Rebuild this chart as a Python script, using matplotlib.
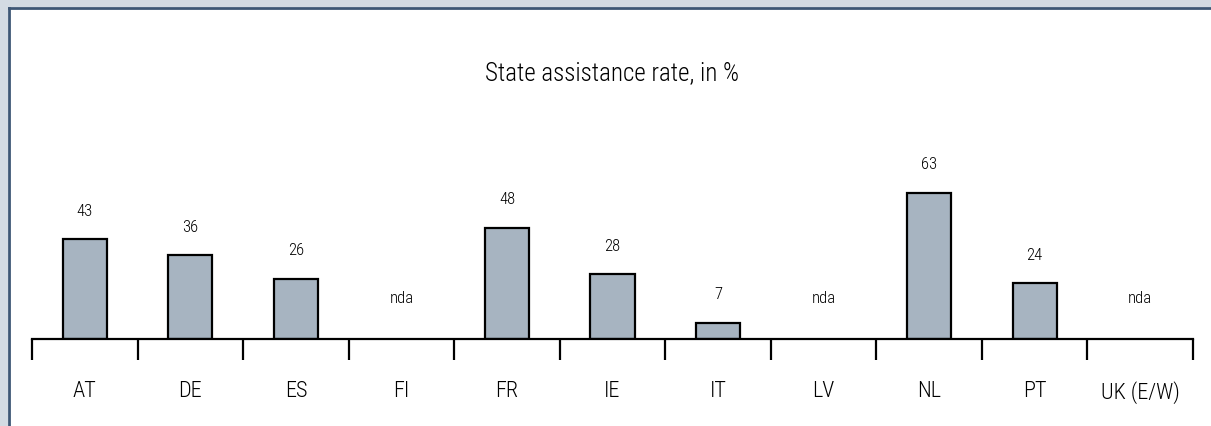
import matplotlib
matplotlib.use("Agg")
import numpy as np
from matplotlib import pyplot as plt
from matplotlib.patches import Rectangle

countries = ["AT", "DE", "ES", "FI", "FR", "IE", "IT", "LV", "NL", "PT", "UK (E/W)"]
rates = [43, 36, 26, None, 48, 28, 7, None, 63, 24, None]
title = "State assistance rate, in %"
missing_label = "nda"

plt.rcParams['font.family'] = ['Roboto Condensed', 'DejaVu Sans']
plt.rcParams['font.weight'] = 'light'

fig = plt.figure(figsize=(12.11, 4.26), dpi=100)
fig.patch.set_facecolor("#d3dbe3")

# white panel with dark left/top border
panel = Rectangle((8 / 1211, 0), 1, 1 - 7 / 426, transform=fig.transFigure,
                  facecolor="white", edgecolor="none", zorder=-2)
fig.patches.append(panel)
fig.add_artist(plt.Line2D([8.5 / 1211, 8.5 / 1211], [0, 1 - 7.5 / 426],
                          transform=fig.transFigure, color="#3d5775", lw=2, zorder=-1))
fig.add_artist(plt.Line2D([8.5 / 1211, 1], [1 - 7.5 / 426, 1 - 7.5 / 426],
                          transform=fig.transFigure, color="#3d5775", lw=2, zorder=-1))

ax = fig.add_axes([32 / 1211, 87 / 426, 1161 / 1211, 239 / 426])
ax.set_facecolor("none")

x = np.arange(len(countries))
for xi, v in zip(x, rates):
    if v is None:
        ax.text(xi, 17.5, missing_label, ha="center", va="center", fontsize=12)
        continue
    ax.bar(xi, v, width=0.42, color="#a7b4c1", edgecolor="black", linewidth=1.6, zorder=2)
    ax.text(xi, v + 12, str(v), ha="center", va="center", fontsize=12)

ax.set_xlim(-0.5, len(countries) - 0.5)
ax.set_ylim(0, 103)

for s in ["top", "right", "left"]:
    ax.spines[s].set_visible(False)
ax.spines["bottom"].set_linewidth(1.6)
ax.yaxis.set_visible(False)

ax.set_xticks(np.arange(-0.5, len(countries), 1.0))
ax.set_xticklabels([])
ax.tick_params(axis="x", which="major", direction="out", length=15, width=1.6)
ax.set_xticks(x, minor=True)
ax.set_xticklabels(countries, minor=True, fontsize=16)
ax.tick_params(axis="x", which="minor", length=0, pad=30)

fig.text(612 / 1211, 1 - 73 / 426, title, ha="center", va="center", fontsize=18)

fig.savefig("out.png", dpi=100, facecolor=fig.get_facecolor())
